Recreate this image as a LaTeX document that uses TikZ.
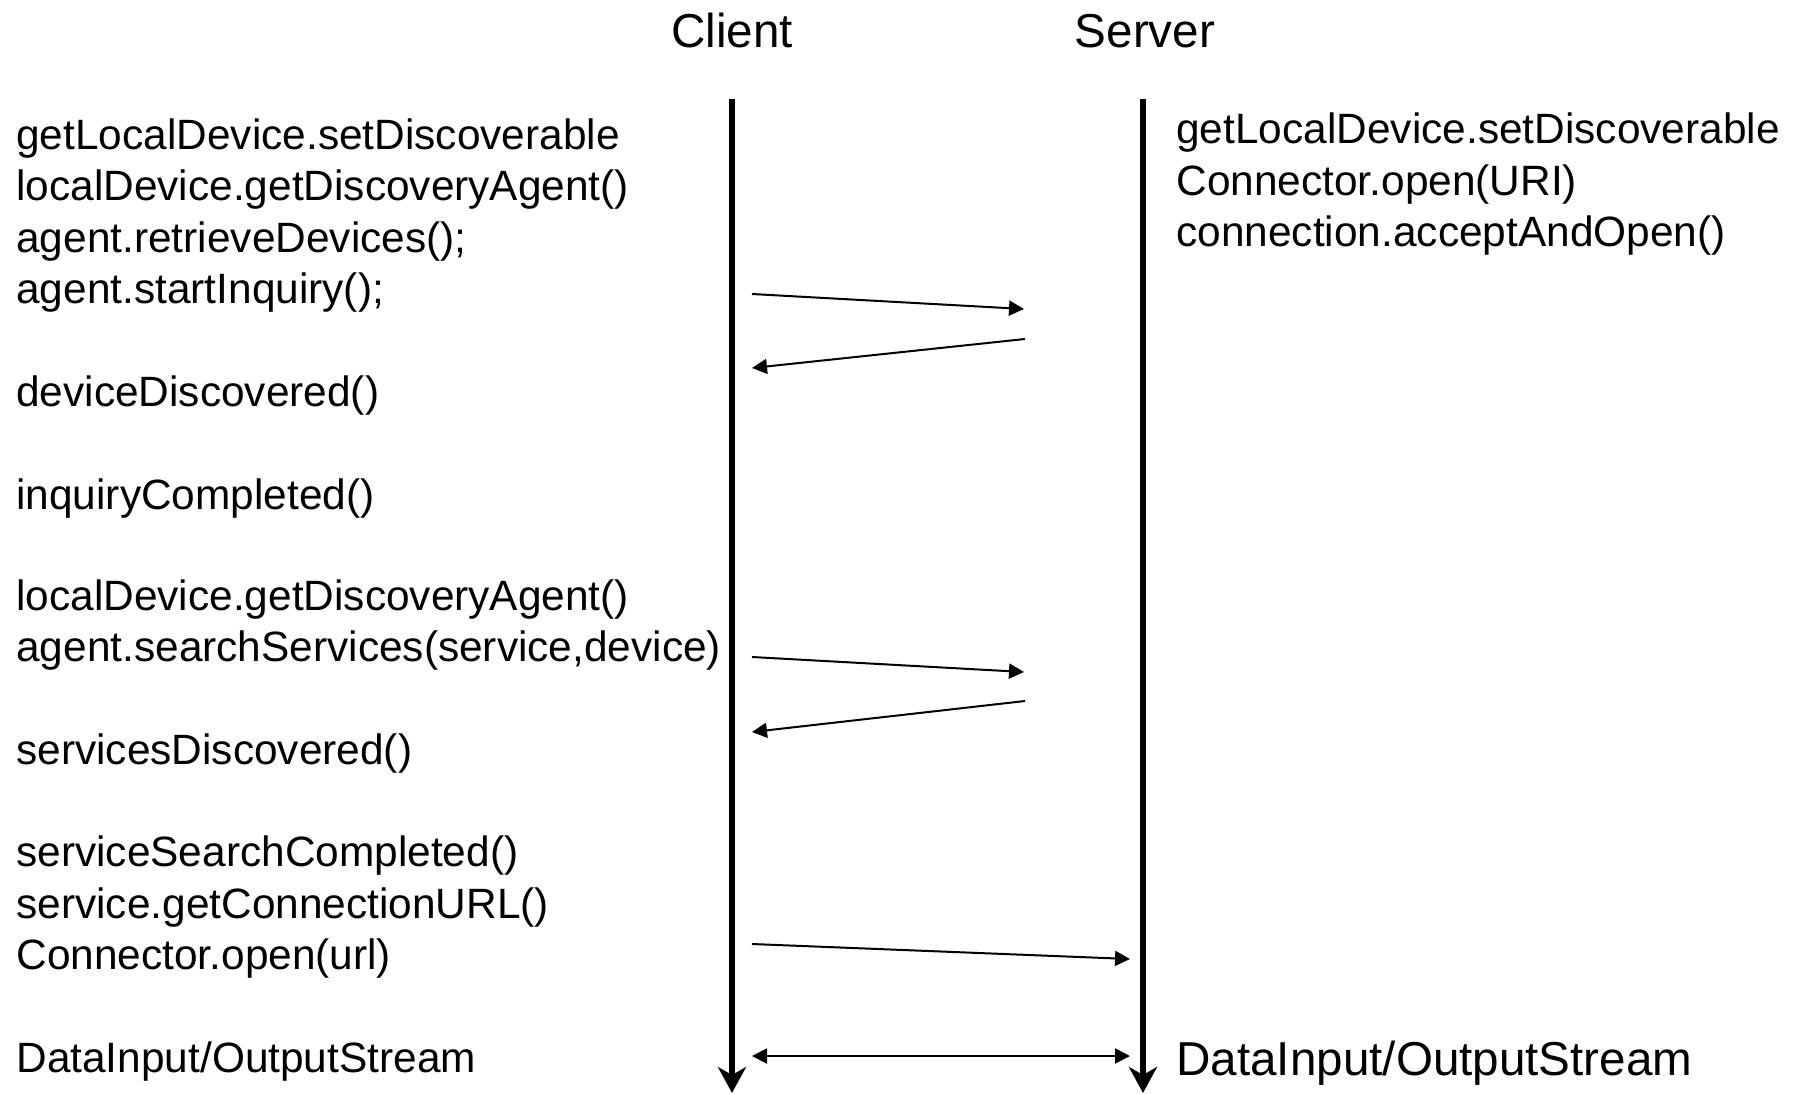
\documentclass[tikz,border=0pt]{standalone}
\usepackage{fontspec}
\setmainfont{Liberation Sans}
\usetikzlibrary{arrows.meta}
\begin{document}
\begin{tikzpicture}[x=0.5pt,y=-0.5pt,
  body/.style={anchor=base west,inner sep=0pt,font=\fontsize{21.2pt}{25.75pt}\selectfont},
  big/.style={inner sep=0pt,font=\fontsize{23.8pt}{28pt}\selectfont},
  life/.style={line width=3pt,-{Stealth[length=13pt,width=14pt,inset=4pt]}},
  msg/.style={line width=1pt,-{Triangle[length=7.5pt,width=7.5pt]}},
  both/.style={line width=1pt,{Triangle[length=7.5pt,width=7.5pt]}-{Triangle[length=7.5pt,width=7.5pt]}}]
\useasboundingbox (0,0) rectangle (1794,1093);
% headings
\node[big,anchor=base] (client) at (732,47) {Client};
\node[big,anchor=base] (server) at (1145,47) {Server};
% lifelines
\coordinate (ctop) at (732,99);
\coordinate (cbot) at (732,1093);
\coordinate (stop) at (1143,99);
\coordinate (sbot) at (1143,1093);
\draw[life] (ctop) -- (cbot);
\draw[life] (stop) -- (sbot);
% client texts
\node[body] (l1) at (16,149) {getLocalDevice.setDiscoverable};
\node[body] (l2) at (16,200.5) {localDevice.getDiscoveryAgent()};
\node[body] (l3) at (16,252) {agent.retrieveDevices();};
\node[body] (l4) at (16,303.5) {agent.startInquiry();};
\node[body] (l5) at (16,406.5) {deviceDiscovered()};
\node[body] (l6) at (16,509.5) {inquiryCompleted()};
\node[body] (l7) at (16,610) {localDevice.getDiscoveryAgent()};
\node[body] (l8) at (16,661.5) {agent.searchServices(service,device)};
\node[body] (l9) at (16,764.5) {servicesDiscovered()};
\node[body] (l10) at (16,866.5) {serviceSearchCompleted()};
\node[body] (l11) at (16,918) {service.getConnectionURL()};
\node[body] (l12) at (16,969.5) {Connector.open(url)};
\node[body] (l13) at (16,1072) {DataInput/OutputStream};
% server texts
\node[body] (r1) at (1176,143.5) {getLocalDevice.setDiscoverable};
\node[body] (r2) at (1176,195) {Connector.open(URI)};
\node[body] (r3) at (1176,246.5) {connection.acceptAndOpen()};
\node[big,anchor=base west] (r4) at (1176,1075) {DataInput/OutputStream};
% messages
\coordinate (a1s) at (752,294);  \coordinate (a1e) at (1024,309);
\coordinate (a2s) at (1025,339); \coordinate (a2e) at (752,368);
\coordinate (a3s) at (752,657);  \coordinate (a3e) at (1024,672);
\coordinate (a4s) at (1025,701); \coordinate (a4e) at (752,732);
\coordinate (a5s) at (752,944);  \coordinate (a5e) at (1130,959);
\coordinate (a6s) at (752,1056); \coordinate (a6e) at (1130,1056);
\draw[msg] (a1s) -- (a1e);
\draw[msg] (a2s) -- (a2e);
\draw[msg] (a3s) -- (a3e);
\draw[msg] (a4s) -- (a4e);
\draw[msg] (a5s) -- (a5e);
\draw[both] (a6s) -- (a6e);
\end{tikzpicture}
\end{document}
